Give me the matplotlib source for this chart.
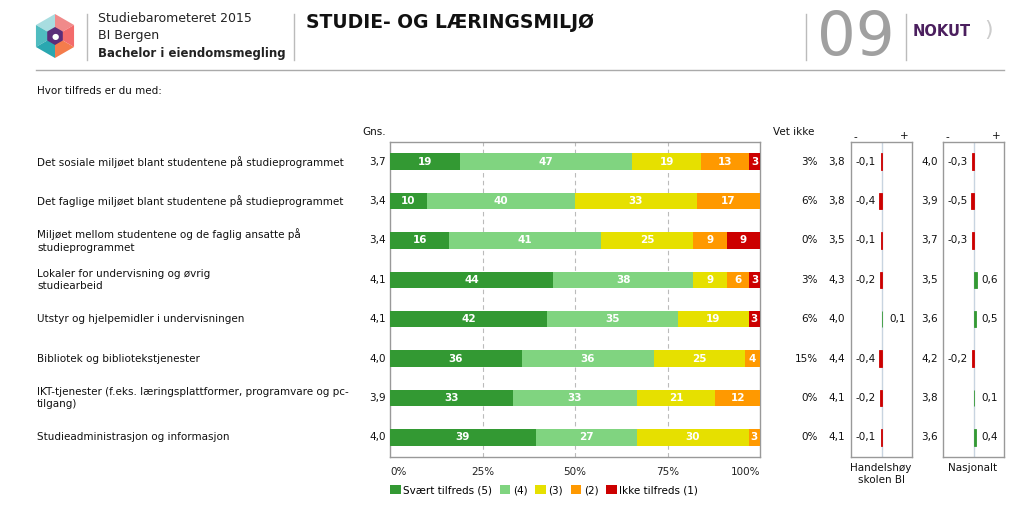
import numpy as np
import matplotlib
matplotlib.use('Agg')
import matplotlib.pyplot as plt
import matplotlib.transforms as mtransforms
from matplotlib.patches import Polygon, Patch

# Data
labels = ['Det sosiale miljøet blant studentene på studieprogrammet',
          'Det faglige miljøet blant studentene på studieprogrammet',
          'Miljøet mellom studentene og de faglig ansatte på\nstudieprogrammet',
          'Lokaler for undervisning og øvrig\nstudiearbeid',
          'Utstyr og hjelpemidler i undervisningen',
          'Bibliotek og bibliotekstjenester',
          'IKT-tjenester (f.eks. læringsplattformer, programvare og pc-\ntilgang)',
          'Studieadministrasjon og informasjon']
s5 = [19, 10, 16, 44, 42, 36, 33, 39]
s4 = [47, 40, 41, 38, 35, 36, 33, 27]
s3 = [19, 33, 25, 9, 19, 25, 21, 30]
s2 = [13, 17, 9, 6, 0, 4, 12, 3]
s1 = [3, 0, 9, 3, 3, 0, 0, 0]
gns = ['3,7', '3,4', '3,4', '4,1', '4,1', '4,0', '3,9', '4,0']
vet_ikke = ['3%', '6%', '0%', '3%', '6%', '15%', '0%', '0%']
bi_mean = ['3,8', '3,8', '3,5', '4,3', '4,0', '4,4', '4,1', '4,1']
bi_diff = [-0.1, -0.4, -0.1, -0.2, 0.1, -0.4, -0.2, -0.1]
nat_mean = ['4,0', '3,9', '3,7', '3,5', '3,6', '4,2', '3,8', '3,6']
nat_diff = [-0.3, -0.5, -0.3, 0.6, 0.5, -0.2, 0.1, 0.4]
series_names = ['Svært tilfreds (5)', '(4)', '(3)', '(2)', 'Ikke tilfreds (1)']
colors = ['#339933', '#80d480', '#e6e000', '#ff9900', '#cc0000']

W, H = 1024, 521
fig = plt.figure(figsize=(W / 100, H / 100), dpi=100)
plt.rcParams['font.family'] = 'DejaVu Sans'


def fx(px):
    return px / W


def fy(py):
    return 1 - py / H


# ---------- Header ----------
# logo: hexagon split into coloured facets
cx, cy, r = fx(55), fy(36), 22
ang = np.deg2rad(np.arange(6) * 60 + 30)
pts = [(cx + r * np.cos(a) / W, cy + r * np.sin(a) / H) for a in ang]
facet_cols = ['#f08a8a', '#a8dde0', '#4fbcc0', '#2aa7b0', '#f47c4c', '#f36b6b']
for i in range(6):
    tri = [(cx, cy), pts[i], pts[(i + 1) % 6]]
    fig.patches.append(Polygon(tri, closed=True, transform=fig.transFigure,
                               facecolor=facet_cols[i], edgecolor='none'))
ri = 9
pin = [(cx + ri * np.cos(a) / W, cy + ri * np.sin(a) / H) for a in ang]
fig.patches.append(Polygon(pin, closed=True, transform=fig.transFigure,
                           facecolor='#5b2d7a', edgecolor='none'))
fig.text(cx, cy, '\u25CF', color='white', fontsize=6, ha='center', va='center')

for x in (87, 294, 806, 906):
    fig.add_artist(plt.Line2D([fx(x), fx(x)], [fy(14), fy(60)],
                              color='#bbbbbb', lw=1, transform=fig.transFigure))
fig.add_artist(plt.Line2D([fx(36), fx(1004)], [fy(70), fy(70)],
                          color='#aaaaaa', lw=1, transform=fig.transFigure))

fig.text(fx(98), fy(18), 'Studiebarometeret 2015', fontsize=9, va='center', color='#222222')
fig.text(fx(98), fy(36), 'BI Bergen', fontsize=9, va='center', color='#222222')
fig.text(fx(98), fy(54), 'Bachelor i eiendomsmegling', fontsize=8.5, va='center',
         fontweight='bold', color='#222222')
fig.text(fx(306), fy(22), 'STUDIE- OG LÆRINGSMILJØ', fontsize=13.5, va='center',
         fontweight='bold', color='#111111')
fig.text(fx(856), fy(38), '09', fontsize=44, va='center', ha='center',
         color='#a0a0a0')
fig.text(fx(913), fy(31), 'NOKUT', fontsize=10.5, va='center', fontweight='bold',
         color='#4b1f5e')
fig.text(fx(984), fy(30), ')', fontsize=16, va='center', color='#cccccc')

fig.text(fx(37), fy(91), 'Hvor tilfreds er du med:', fontsize=7.5, va='center',
         color='#111111')

# ---------- Main stacked bar chart ----------
top, bottom = 142, 457
ax = fig.add_axes([fx(390), fy(bottom), fx(760) - fx(390), (bottom - top) / H])
data = np.array([s5, s4, s3, s2, s1], dtype=float)
pct = data / data.sum(axis=0) * 100
y = np.arange(len(labels))
left = np.zeros(len(labels))
bar_h = 0.42
for k in range(5):
    ax.barh(y, pct[k], left=left, height=bar_h, color=colors[k],
            edgecolor='none', zorder=3)
    for i in range(len(labels)):
        if data[k, i] > 0:
            ax.text(left[i] + pct[k, i] / 2, y[i], f'{int(data[k, i])}',
                    ha='center', va='center', color='white', fontsize=7.5,
                    fontweight='bold', zorder=4)
    left += pct[k]

ax.set_xlim(0, 100)
ax.set_ylim(len(labels) - 0.5, -0.5)
ax.set_yticks([])
ax.set_xticks([0, 25, 50, 75, 100])
ax.set_xticklabels(['0%', '25%', '50%', '75%', '100%'], fontsize=7.5)
tl = ax.get_xticklabels()
tl[0].set_ha('left')
tl[-1].set_ha('right')
ax.tick_params(axis='x', length=0, pad=7, colors='#222222')
for g in (25, 50, 75):
    ax.axvline(g, color='#bbbbbb', lw=0.8, ls=(0, (4, 3)), zorder=1)
for sp in ax.spines.values():
    sp.set_color('#999999')
    sp.set_linewidth(1)

# row labels and side columns
tr = mtransforms.blended_transform_factory(fig.transFigure, ax.transData)
for i, lab in enumerate(labels):
    fig.text(fx(37), y[i], lab, transform=tr, fontsize=7.5, va='center',
             color='#111111', linespacing=1.3)
    fig.text(fx(386), y[i], gns[i], transform=tr, fontsize=7.5, va='center',
             ha='right', color='#111111')
    fig.text(fx(818), y[i], vet_ikke[i], transform=tr, fontsize=7.5, va='center',
             ha='right', color='#111111')
    fig.text(fx(845), y[i], bi_mean[i], transform=tr, fontsize=7.5, va='center',
             ha='right', color='#111111')
    fig.text(fx(938), y[i], nat_mean[i], transform=tr, fontsize=7.5, va='center',
             ha='right', color='#111111')

fig.text(fx(362), fy(132), 'Gns.', fontsize=7.5, va='center', color='#111111')
fig.text(fx(773), fy(132), 'Vet ikke', fontsize=7.5, va='center', color='#111111')

# legend
handles = [Patch(facecolor=c, edgecolor='none') for c in colors]
fig.legend(handles, series_names, loc='center left',
           bbox_to_anchor=(fx(386), fy(490)), ncol=5, frameon=False,
           fontsize=7.5, handlelength=1.0, handleheight=1.0,
           handletextpad=0.25, columnspacing=0.75, borderaxespad=0)

# ---------- Difference panels ----------
for box_left, diffs, title in [(851, bi_diff, 'Handelshøy\nskolen BI'),
                               (943, nat_diff, 'Nasjonalt')]:
    bx = fig.add_axes([fx(box_left), fy(bottom), 61 / W, (bottom - top) / H])
    dcols = ['#339933' if d > 0 else '#cc0000' for d in diffs]
    bx.axvline(0, color='#c8d4e0', lw=1, zorder=1)
    bx.barh(y, diffs, height=bar_h, color=dcols, edgecolor=dcols,
            linewidth=0.6, zorder=3)
    bx.set_xlim(-6, 6)
    bx.set_ylim(len(labels) - 0.5, -0.5)
    bx.set_xticks([])
    bx.set_yticks([])
    for sp in bx.spines.values():
        sp.set_color('#999999')
        sp.set_linewidth(1)
    for i, d in enumerate(diffs):
        txt = f'{d:.1f}'.replace('.', ',')
        if d < 0:
            bx.text(-1.1, y[i], txt, ha='right', va='center', fontsize=7.5,
                    color='#111111')
        else:
            bx.text(1.5, y[i], txt, ha='left', va='center', fontsize=7.5,
                    color='#111111')
    fig.text(fx(box_left + 3), fy(137), '-', fontsize=7.5, va='center',
             color='#111111')
    fig.text(fx(box_left + 58), fy(136), '+', fontsize=7.5, va='center',
             ha='right', color='#111111')
    fig.text(fx(box_left + 30), fy(463), title, fontsize=7.5, va='top',
             ha='center', color='#111111', linespacing=1.2)

fig.savefig('out.png', dpi=100)
